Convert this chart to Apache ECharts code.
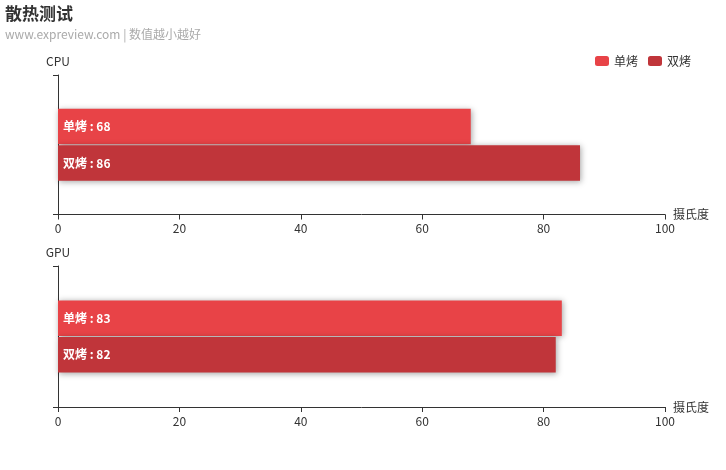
<!DOCTYPE html>
<html><head><meta charset="utf-8">
<script src="https://cdn.jsdelivr.net/npm/echarts@6/dist/echarts.min.js"></script>
<style>html,body{margin:0;padding:0;background:#fff}#c{width:726px;height:470px}</style>
</head><body><div id="c"></div>
<script>
const seriesNames = ['单烤', '双烤'];
const panels = ['CPU', 'GPU'];
const singleValues = [68, 83];
const dualValues = [86, 82];
const xTicks = [0, 20, 40, 60, 80, 100];
const colors = ['#e84347', '#c0353a'];

const chart = echarts.init(document.getElementById('c'));
const font = '"Noto Sans CJK SC", "Noto Sans", sans-serif';
const grids = [
  {left: 58, right: 61, top: 75, height: 139.5},
  {left: 58, right: 61, top: 266, height: 141}
];
const xAxes = grids.map((g, i) => ({
  type: 'value', gridIndex: i, min: xTicks[0], max: xTicks[xTicks.length-1], interval: 20,
  name: '摄氏度', nameGap: 8, nameTextStyle: {color: '#333', fontSize: 12, fontFamily: font, verticalAlign: 'bottom', padding: [0,0,-6,0]},
  axisLine: {show: true, lineStyle: {color: '#333'}}, axisTick: {show: true, length: 5, lineStyle: {color: '#333'}},
  axisLabel: {color: '#333', fontSize: 12, fontFamily: font},
  splitLine: {show: false}
}));
const yAxes = panels.map((p, i) => ({
  type: 'category', gridIndex: i, data: [''], name: p, nameGap: 8,
  nameTextStyle: {color: '#333', fontSize: 12, fontFamily: font},
  axisLine: {show: true, lineStyle: {color: '#333'}}, axisTick: {show: true, length: 5, lineStyle: {color: '#333'}},
  axisLabel: {show: false}, splitLine: {show: false}
}));
const series = [];
panels.forEach((p, i) => {
  [[seriesNames[0], singleValues[i], colors[0]], [seriesNames[1], dualValues[i], colors[1]]].forEach(([n, v, c]) => {
    series.push({
      name: n, type: 'bar', xAxisIndex: i, yAxisIndex: i, data: [v], barWidth: 35.5, barGap: '3%',
      itemStyle: {color: c, shadowBlur: 6, shadowColor: 'rgba(0,0,0,0.35)', shadowOffsetX: 1, shadowOffsetY: 1},
      label: {show: true, position: 'insideLeft', formatter: '{a} : {c}', color: '#fff', fontWeight: 'bold', fontSize: 12, fontFamily: font},
      color: c
    });
  });
});
chart.setOption({
  animation: false,
  color: colors,
  title: {text: '散热测试', subtext: 'www.expreview.com | 数值越小越好', left: 0, top: 0,
    textStyle: {fontSize: 17, fontWeight: 'bold', color: '#333', fontFamily: font},
    subtextStyle: {fontSize: 12, color: '#aaa', fontFamily: font}, itemGap: 6},
  legend: {data: seriesNames, right: 30, top: 50, itemWidth: 14, itemHeight: 10, itemGap: 10,
    textStyle: {color: '#333', fontSize: 12, fontFamily: font}},
  grid: grids, xAxis: xAxes, yAxis: yAxes, series: series
});
</script></body></html>
